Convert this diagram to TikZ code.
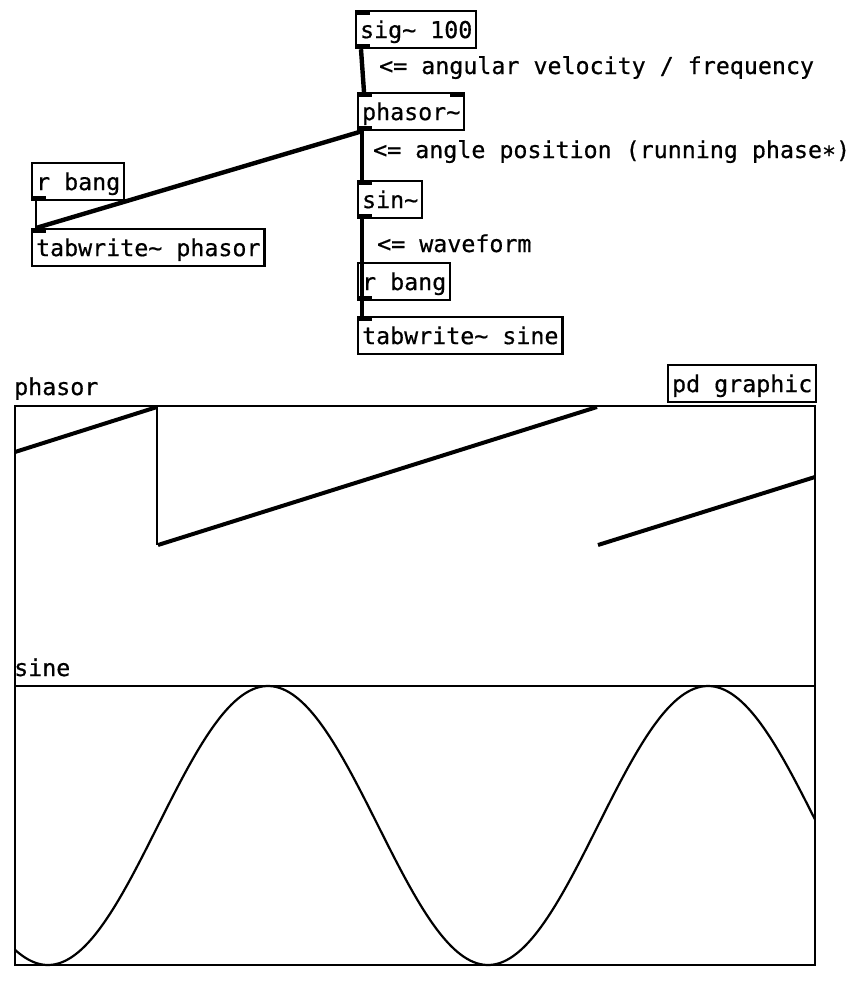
\documentclass[tikz,border=0pt]{standalone}
\usepackage{fontspec}
\newfontfamily\pdfont[FakeBold=0.6]{DejaVu Sans Mono}
\usetikzlibrary{calc}
\begin{document}
\begin{tikzpicture}[x=1pt,y=-1pt,
  pdtext/.style={font=\pdfont\fontsize{23.3}{28}\selectfont},
  obj/.style={pdtext, draw, line width=2.2pt, rectangle, anchor=north west,
    inner xsep=4pt, inner ysep=0pt, text height=27pt, text depth=10pt},
  cmt/.style={pdtext, anchor=base west, inner sep=0pt},
  sigline/.style={line width=4.4pt},
  ctlline/.style={line width=2pt},
  frame/.style={line width=2.4pt},
  tab/.style={fill=black}
]
\useasboundingbox (0,0) rectangle (851,983);

% objects
\node[obj] (sig) at (355,10) {sig\textasciitilde{} 100};
\node[obj] (phasor) at (357,92) {phasor\textasciitilde};
\node[obj] (sin) at (357,180) {sin\textasciitilde};
\node[obj] (rb2) at (357,262) {r bang};
\node[obj] (tws) at (357,316) {tabwrite\textasciitilde{} sine};
\node[obj] (rb1) at (31,162) {r bang};
\node[obj] (twp) at (31,228) {tabwrite\textasciitilde{} phasor};
\node[obj] (pdg) at (667,364) {pd graphic};

% inlets / outlets
\fill[tab] (sig.north west) rectangle ++(15,5);
\fill[tab] (sig.south west) rectangle ++(15,-5);
\fill[tab] (phasor.north west) rectangle ++(15,5);
\fill[tab] (phasor.north east) rectangle ++(-15,5);
\fill[tab] (phasor.south west) rectangle ++(15,-5);
\fill[tab] (sin.north west) rectangle ++(15,5);
\fill[tab] (sin.south west) rectangle ++(15,-5);
\fill[tab] (rb2.south west) rectangle ++(15,-5);
\fill[tab] (tws.north west) rectangle ++(15,5);
\fill[tab] (rb1.south west) rectangle ++(15,-5);
\fill[tab] (twp.north west) rectangle ++(15,5);

% comments
\node[cmt] (c1) at (379,74) {<= angular velocity / frequency};
\node[cmt] (c2) at (373,158) {<= angle position (running phase\symbol{"2217})};
\node[cmt] (c3) at (377,252) {<= waveform};

% connections
\draw[ctlline] ([xshift=5pt]rb1.south west) -- ([xshift=5pt]twp.north west);
\draw[ctlline] ([xshift=5pt]rb2.south west) -- ([xshift=5pt]tws.north west);
\draw[sigline] ([xshift=6pt]sig.south west) -- ([xshift=7pt]phasor.north west);
\draw[sigline] ([xshift=5pt]phasor.south west) -- ([xshift=5pt]sin.north west);
\draw[sigline] ([xshift=5pt]phasor.south west) -- ([xshift=5pt]twp.north west);
\draw[sigline] ([xshift=5pt]sin.south west) -- ([xshift=5pt]tws.north west);

% graph
\node[cmt] (lphasor) at (14,395) {phasor};
\node[cmt] (lsine) at (14,676) {sine};
\draw[frame] (15,406) rectangle (815,686);
\draw[frame] (15,686) rectangle (815,965);

% phasor array
\draw[line width=4pt] (15,452) -- (157,407);
\draw[line width=2pt] (157,407) -- (157,545);
\draw[line width=4pt] (158,545) -- (597,407);
\draw[line width=4pt] (598,545) -- (815,477);

% sine array
\draw[line width=2.2pt] plot[domain=15:815, samples=240, smooth]
  (\x, {825.5-139.5*sin((\x-158)/440*360)});
\end{tikzpicture}
\end{document}
